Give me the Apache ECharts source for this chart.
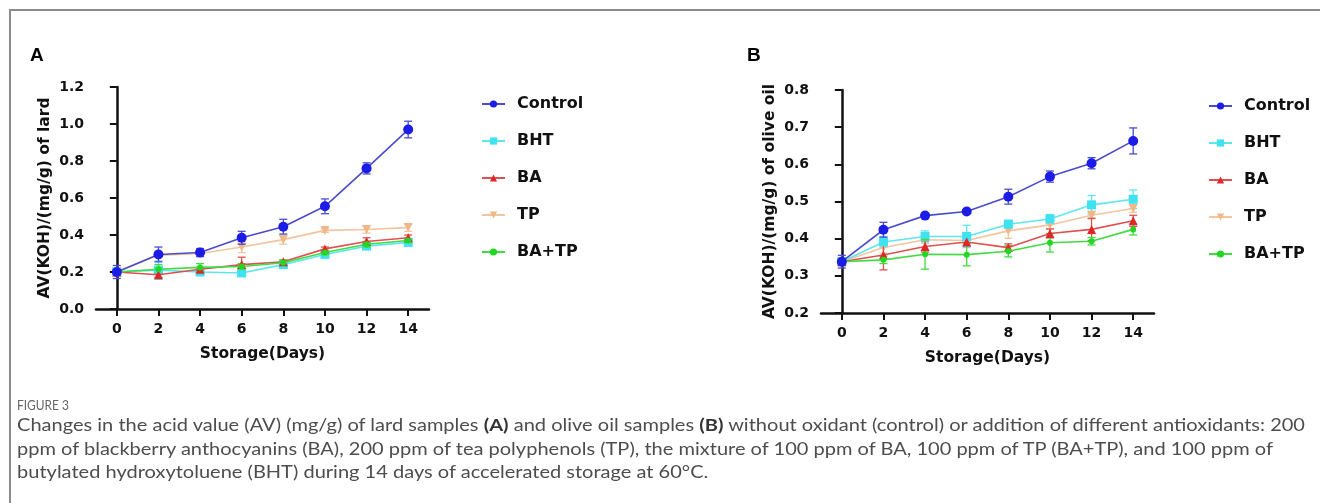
<!DOCTYPE html>
<html>
<head>
<meta charset="utf-8">
<script src="https://cdn.jsdelivr.net/npm/echarts@6/dist/echarts.min.js"></script>
<style>
  html, body { margin: 0; padding: 0; background: #fff; }
  #wrap { position: relative; width: 1320px; height: 503px; overflow: hidden; }
  #frame { position: absolute; left: 9px; top: 9px; width: 1400px; height: 600px;
           border-top: 2px solid #8c8c8c; border-left: 2px solid #8c8c8c; }
  #main { position: absolute; left: 0; top: 0; width: 1320px; height: 503px; }
  .cap { position: absolute; left: 17px; white-space: nowrap; color: #4d4d4d;
         font-family: Lato, "Liberation Sans", sans-serif; transform-origin: 0 0; }
  .cap b { color: #333; }
  #figno { top: 397px; font-size: 13px; color: #666; }
  .line { font-size: 17px; }
</style>
</head>
<body>
<div id="wrap">
  <div id="frame"></div>
  <div id="main"></div>
  <div class="cap" id="figno">FIGURE 3</div>
  <div class="cap line" id="l1" style="top:414px">Changes in the acid value (AV) (mg/g) of lard samples <b>(A)</b> and olive oil samples <b>(B)</b> without oxidant (control) or addition of different antioxidants: 200</div>
  <div class="cap line" id="l2" style="top:438px">ppm of blackberry anthocyanins (BA), 200 ppm of tea polyphenols (TP), the mixture of 100 ppm of BA, 100 ppm of TP (BA+TP), and 100 ppm of</div>
  <div class="cap line" id="l3" style="top:461px">butylated hydroxytoluene (BHT) during 14 days of accelerated storage at 60&#176;C.</div>
</div>
<script>
// storage days
const days = [0, 2, 4, 6, 8, 10, 12, 14];
const seriesNames = ['Control', 'BHT', 'BA', 'TP', 'BA+TP'];

// panel A: lard
const lardControl = [0.20, 0.295, 0.305, 0.385, 0.445, 0.555, 0.760, 0.970];
const lardBHT     = [0.20, 0.210, 0.200, 0.195, 0.240, 0.295, 0.340, 0.360];
const lardBA      = [0.20, 0.185, 0.215, 0.240, 0.255, 0.325, 0.365, 0.385];
const lardTP      = [0.20, 0.290, 0.300, 0.335, 0.375, 0.425, 0.430, 0.440];
const lardBATP    = [0.20, 0.215, 0.225, 0.230, 0.250, 0.305, 0.350, 0.370];
const lardControlErr = [0.035, 0.040, 0.022, 0.035, 0.040, 0.040, 0.030, 0.045];
const lardBHTErr     = [0.015, 0.050, 0.015, 0.015, 0.015, 0.012, 0.015, 0.015];
const lardBAErr      = [0.010, 0.015, 0.010, 0.040, 0.010, 0.010, 0.020, 0.015];
const lardTPErr      = [0.010, 0.010, 0.010, 0.030, 0.025, 0.010, 0.020, 0.020];
const lardBATPErr    = [0.010, 0.025, 0.020, 0.015, 0.015, 0.012, 0.015, 0.010];

// panel B: olive oil
const oilControl = [0.338, 0.424, 0.462, 0.473, 0.513, 0.567, 0.603, 0.663];
const oilBHT     = [0.338, 0.391, 0.406, 0.406, 0.439, 0.453, 0.491, 0.506];
const oilBA      = [0.338, 0.356, 0.379, 0.391, 0.376, 0.414, 0.425, 0.448];
const oilTP      = [0.338, 0.376, 0.397, 0.395, 0.421, 0.437, 0.463, 0.481];
const oilBATP    = [0.338, 0.343, 0.358, 0.357, 0.366, 0.389, 0.393, 0.425];
const oilControlErr = [0.017, 0.020, 0.005, 0.005, 0.020, 0.015, 0.015, 0.035];
const oilBHTErr     = [0.008, 0.015, 0.015, 0.030, 0.010, 0.012, 0.025, 0.025];
const oilBAErr      = [0.008, 0.040, 0.015, 0.010, 0.010, 0.012, 0.030, 0.015];
const oilTPErr      = [0.008, 0.015, 0.010, 0.015, 0.020, 0.010, 0.010, 0.010];
const oilBATPErr    = [0.008, 0.010, 0.040, 0.030, 0.015, 0.025, 0.010, 0.015];

const xTicks = [0, 2, 4, 6, 8, 10, 12, 14];
const lardTicks = [0, 0.2, 0.4, 0.6, 0.8, 1.0, 1.2];
const oilTicks = [0.2, 0.3, 0.4, 0.5, 0.6, 0.7, 0.8];

const styles = {
  'Control': { line: '#4b4bcf', mark: '#1c1ce8', symbol: 'circle', size: 10, z: 10 },
  'BHT':     { line: '#5ee6ee', mark: '#3fe2f0', symbol: 'rect', size: 9, z: 6 },
  'BA':      { line: '#e05050', mark: '#e02626', symbol: 'triangle', size: 9, z: 7 },
  'TP':      { line: '#f3c59e', mark: '#f0b886', symbol: 'path://M0,0L10,0L5,9Z', size: 9, z: 5 },
  'BA+TP':   { line: '#40dc40', mark: '#22d622', symbol: 'circle', size: 6, z: 8 }
};

const FONT = '"DejaVu Sans", "Liberation Sans", sans-serif';

function errRender(color) {
  return function (params, api) {
    const x = api.value(0), y = api.value(1), e = api.value(2);
    const top = api.coord([x, y + e]);
    const bot = api.coord([x, y - e]);
    const w = 4;
    const st = { stroke: color, lineWidth: 1.3 };
    return {
      type: 'group',
      children: [
        { type: 'line', shape: { x1: top[0], y1: top[1], x2: bot[0], y2: bot[1] }, style: st },
        { type: 'line', shape: { x1: top[0] - w, y1: top[1], x2: top[0] + w, y2: top[1] }, style: st },
        { type: 'line', shape: { x1: bot[0] - w, y1: bot[1], x2: bot[0] + w, y2: bot[1] }, style: st }
      ]
    };
  };
}

function makeSeries(idx, name, values, errs) {
  const s = styles[name];
  const pts = days.map((d, i) => [d, values[i]]);
  const ebs = days.map((d, i) => [d, values[i], errs[i]]);
  return [
    {
      type: 'line', name: name, xAxisIndex: idx, yAxisIndex: idx,
      data: pts, symbol: s.symbol, symbolSize: s.size, showSymbol: true,
      lineStyle: { color: s.line, width: 1.6 },
      itemStyle: { color: s.mark, borderWidth: 0 },
      z: s.z + 1, animation: false
    },
    {
      type: 'custom', name: name + ' error', xAxisIndex: idx, yAxisIndex: idx,
      renderItem: errRender(s.line), data: ebs, z: s.z, silent: true
    }
  ];
}

function xAxis(idx) {
  return {
    type: 'value', gridIndex: idx, min: -1, max: 15,
    name: 'Storage(Days)', nameLocation: 'middle', nameGap: 37,
    nameTextStyle: { fontFamily: FONT, fontWeight: 'bold', fontSize: 15.5, color: '#111' },
    axisLine: { show: true, lineStyle: { color: '#111', width: 2.5 } },
    axisTick: { show: true, customValues: xTicks, length: 7, lineStyle: { color: '#111', width: 2 } },
    axisLabel: { customValues: xTicks, margin: 13, fontFamily: FONT, fontWeight: 'bold', fontSize: 14, color: '#111' },
    splitLine: { show: false }
  };
}

function yAxis(idx, name, min, max, interval) {
  return {
    type: 'value', gridIndex: idx, min: min, max: max, interval: interval,
    name: name, nameLocation: 'middle', nameGap: 43,
    nameTextStyle: { fontFamily: FONT, fontWeight: 'bold', fontSize: 15.5, color: '#111' },
    axisLine: { show: true, lineStyle: { color: '#111', width: 2.5 } },
    axisTick: { show: true, length: 7, lineStyle: { color: '#111', width: 2 } },
    axisLabel: { margin: 12, fontFamily: FONT, fontWeight: 'bold', fontSize: 14, color: '#111',
                 formatter: v => v.toFixed(1) },
    splitLine: { show: false }
  };
}

function legend(left, top) {
  return {
    orient: 'vertical', left: left, top: top,
    itemWidth: 23, itemHeight: 9, itemGap: 21,
    data: seriesNames,
    textStyle: { fontFamily: FONT, fontWeight: 'bold', fontSize: 16, color: '#111', padding: [0, 0, 0, 7] }
  };
}

const lardVals = [lardControl, lardBHT, lardBA, lardTP, lardBATP];
const lardErrs = [lardControlErr, lardBHTErr, lardBAErr, lardTPErr, lardBATPErr];
const oilVals = [oilControl, oilBHT, oilBA, oilTP, oilBATP];
const oilErrs = [oilControlErr, oilBHTErr, oilBAErr, oilTPErr, oilBATPErr];

let series = [];
seriesNames.forEach((n, i) => { series = series.concat(makeSeries(0, n, lardVals[i], lardErrs[i])); });
seriesNames.forEach((n, i) => { series = series.concat(makeSeries(1, n, oilVals[i], oilErrs[i])); });

const chart = echarts.init(document.getElementById('main'), null, { renderer: 'canvas' });
chart.setOption({
  animation: false,
  backgroundColor: 'transparent',
  grid: [
    { left: 96, top: 87, width: 333, height: 222, containLabel: false },
    { left: 821, top: 90, width: 333, height: 223, containLabel: false }
  ],
  xAxis: [xAxis(0), xAxis(1)],
  yAxis: [
    yAxis(0, 'AV(KOH)/(mg/g) of lard', lardTicks[0], lardTicks[lardTicks.length - 1], 0.2),
    yAxis(1, 'AV(KOH)/(mg/g) of olive oil', oilTicks[0], oilTicks[oilTicks.length - 1], 0.1)
  ],
  legend: [legend(476, 91), legend(1203, 93)],
  graphic: [
    { type: 'text', left: 30, top: 46, style: { text: 'A', font: 'bold 19px "Liberation Sans", Arial, sans-serif', fill: '#000' } },
    { type: 'text', left: 747, top: 46, style: { text: 'B', font: 'bold 19px "Liberation Sans", Arial, sans-serif', fill: '#000' } }
  ],
  series: series
});

// squeeze caption lines horizontally to the reference width
(function () {
  const lines = document.querySelectorAll('.line');
  const w = document.getElementById('l1').getBoundingClientRect().width;
  const k = 1288 / w;
  lines.forEach(el => el.style.transform = 'scaleX(' + k + ')');
  const f = document.getElementById('figno');
  f.style.transform = 'scaleX(' + (52 / f.getBoundingClientRect().width) + ')';
})();
</script>
</body>
</html>
